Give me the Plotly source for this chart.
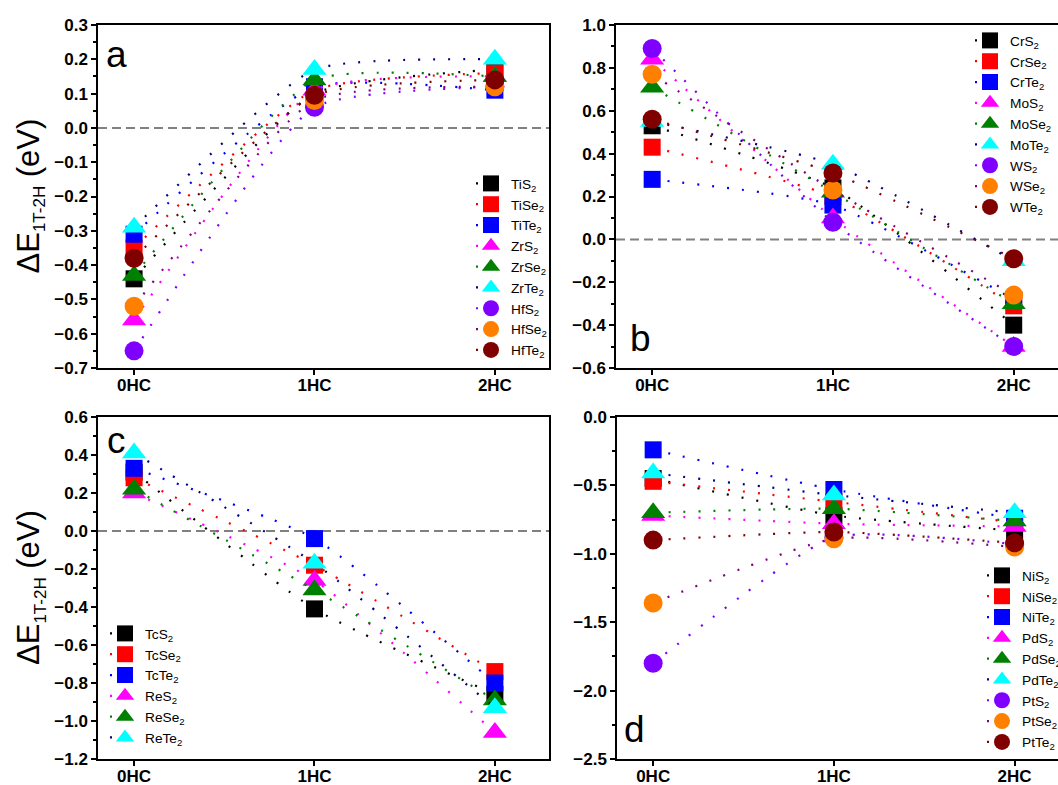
import plotly.graph_objects as go
from plotly.subplots import make_subplots

# hydrogen coverage positions along the x axis
coverage = [0, 1, 2]
coverage_labels = ["0HC", "1HC", "2HC"]

# panel a: group IV dichalcogenides, ΔE(1T-2H) in eV
names_a = ["TiS<sub>2</sub>", "TiSe<sub>2</sub>", "TiTe<sub>2</sub>",
           "ZrS<sub>2</sub>", "ZrSe<sub>2</sub>", "ZrTe<sub>2</sub>",
           "HfS<sub>2</sub>", "HfSe<sub>2</sub>", "HfTe<sub>2</sub>"]
TiS2 = [-0.44, 0.10, 0.17]
TiSe2 = [-0.35, 0.11, 0.16]
TiTe2 = [-0.31, 0.12, 0.11]
ZrS2 = [-0.56, 0.11, 0.15]
ZrSe2 = [-0.43, 0.14, 0.15]
ZrTe2 = [-0.29, 0.17, 0.20]
HfS2 = [-0.65, 0.06, 0.12]
HfSe2 = [-0.52, 0.08, 0.12]
HfTe2 = [-0.38, 0.095, 0.14]

# panel b: group VI
names_b = ["CrS<sub>2</sub>", "CrSe<sub>2</sub>", "CrTe<sub>2</sub>",
           "MoS<sub>2</sub>", "MoSe<sub>2</sub>", "MoTe<sub>2</sub>",
           "WS<sub>2</sub>", "WSe<sub>2</sub>", "WTe<sub>2</sub>"]
CrS2 = [0.53, 0.24, -0.40]
CrSe2 = [0.43, 0.20, -0.31]
CrTe2 = [0.28, 0.16, -0.28]
MoS2 = [0.84, 0.10, -0.50]
MoSe2 = [0.71, 0.22, -0.30]
MoTe2 = [0.55, 0.35, -0.10]
WS2 = [0.89, 0.08, -0.50]
WSe2 = [0.77, 0.23, -0.26]
WTe2 = [0.56, 0.31, -0.09]

# panel c: group VII
names_c = ["TcS<sub>2</sub>", "TcSe<sub>2</sub>", "TcTe<sub>2</sub>",
           "ReS<sub>2</sub>", "ReSe<sub>2</sub>", "ReTe<sub>2</sub>"]
TcS2 = [0.31, -0.41, -0.86]
TcSe2 = [0.28, -0.18, -0.74]
TcTe2 = [0.33, -0.04, -0.80]
ReS2 = [0.20, -0.26, -1.06]
ReSe2 = [0.22, -0.31, -0.89]
ReTe2 = [0.41, -0.17, -0.93]

# panel d: group X
names_d = ["NiS<sub>2</sub>", "NiSe<sub>2</sub>", "NiTe<sub>2</sub>",
           "PdS<sub>2</sub>", "PdSe<sub>2</sub>", "PdTe<sub>2</sub>",
           "PtS<sub>2</sub>", "PtSe<sub>2</sub>", "PtTe<sub>2</sub>"]
NiS2 = [-0.45, -0.72, -0.83]
NiSe2 = [-0.47, -0.62, -0.77]
NiTe2 = [-0.24, -0.53, -0.74]
PdS2 = [-0.72, -0.78, -0.80]
PdSe2 = [-0.70, -0.67, -0.76]
PdTe2 = [-0.41, -0.57, -0.70]
PtS2 = [-1.80, -0.88, -0.93]
PtSe2 = [-1.36, -0.89, -0.95]
PtTe2 = [-0.90, -0.84, -0.92]

series_a = [TiS2, TiSe2, TiTe2, ZrS2, ZrSe2, ZrTe2, HfS2, HfSe2, HfTe2]
series_b = [CrS2, CrSe2, CrTe2, MoS2, MoSe2, MoTe2, WS2, WSe2, WTe2]
series_c = [TcS2, TcSe2, TcTe2, ReS2, ReSe2, ReTe2]
series_d = [NiS2, NiSe2, NiTe2, PdS2, PdSe2, PdTe2, PtS2, PtSe2, PtTe2]

marker_colors = ["#000000", "#FF0000", "#0000FF", "#FF00FF", "#008000",
                 "#00FFFF", "#8000FF", "#FF8000", "#800000"]
line_colors = ["#000000", "#FF0000", "#0000FF", "#FF00FF", "#008000",
               "#000080", "#8000FF", "#800080", "#800000"]
symbols = ["square"] * 3 + ["triangle-up"] * 3 + ["circle"] * 3
sizes = {"square": 17, "triangle-up": 21, "circle": 19}

FONT = "Liberation Sans, Arial, sans-serif"
W, H = 1058, 785

fig = make_subplots(rows=2, cols=2)

panels = [
    (names_a, series_a, 1, 1, "legend"),
    (names_b, series_b, 1, 2, "legend2"),
    (names_c, series_c, 2, 1, "legend3"),
    (names_d, series_d, 2, 2, "legend4"),
]
for names, series, r, c, leg in panels:
    for i, (nm, vals) in enumerate(zip(names, series)):
        fig.add_trace(go.Scatter(
            x=coverage, y=vals, name=nm, mode="lines+markers", legend=leg,
            line=dict(color=line_colors[i], width=2.2, dash="2px,13px",
                      shape="spline", smoothing=0.5),
            marker=dict(symbol=symbols[i], size=sizes[symbols[i]],
                        color=marker_colors[i], line=dict(width=0)),
        ), row=r, col=c)

# plot-area rectangles in pixels: (left, top, right, bottom)
boxes = {
    1: (98, 25, 549, 368),
    2: (616, 25, W, 368),
    3: (98, 417, 549, 759),
    4: (617, 417, W, 759),
}
xranges = {1: [-0.2, 2.3], 2: [-0.2, 2.245], 3: [-0.2, 2.3], 4: [-0.2, 2.24]}
yranges = {1: [-0.7, 0.3], 2: [-0.6, 1.0], 3: [-1.2, 0.6], 4: [-2.5, 0.0]}
ydticks = {1: 0.1, 2: 0.2, 3: 0.2, 4: 0.5}

tickfont = dict(family=FONT, size=17, color="black", weight="bold")
for k in range(1, 5):
    l, t, rr, b = boxes[k]
    xa = "xaxis" if k == 1 else f"xaxis{k}"
    ya = "yaxis" if k == 1 else f"yaxis{k}"
    right_open = k in (2, 4)
    fig.layout[xa].update(
        domain=[l / W, rr / W], range=xranges[k],
        tickvals=coverage, ticktext=coverage_labels,
        showline=True, linecolor="black", linewidth=1.5, mirror=True,
        ticks="outside", ticklen=5, tickwidth=1.5, tickcolor="black",
        ticklabelstandoff=-4,
        showgrid=False, zeroline=False, tickfont=tickfont,
    )
    fig.layout[ya].update(
        domain=[1 - b / H, 1 - t / H], range=yranges[k],
        dtick=ydticks[k], tick0=0, tickformat=".1f",
        showline=True, linecolor="black", linewidth=1.5,
        mirror=not right_open,
        ticks="outside", ticklen=5, tickwidth=1.5, tickcolor="black",
        minor=dict(ticks="outside", ticklen=3, tickwidth=1.5,
                   tickcolor="black", dtick=ydticks[k] / 2),
        showgrid=False, zeroline=False, tickfont=tickfont,
    )

# dashed reference line at zero
for k in (1, 2, 3):
    xs = "x" if k == 1 else f"x{k}"
    ys = "y" if k == 1 else f"y{k}"
    fig.add_shape(type="line", xref=f"{xs} domain", yref=ys, x0=0, x1=1,
                  y0=0, y1=0, layer="below",
                  line=dict(color="#808080", width=2, dash="9px,5px"))

# y-axis titles on the left panels
ytitle = ("ΔE<sub><span style='font-size:17px'>1T-2H</span></sub> (eV)")
for t, b in ((25, 368), (417, 759)):
    fig.add_annotation(text=ytitle, xref="paper", yref="paper",
                       x=30 / W, y=1 - (t + b) / 2 / H, textangle=-90,
                       showarrow=False, xanchor="center", yanchor="middle",
                       font=dict(family=FONT, size=31, color="black"))

# panel letters
for letter, px, py in (("a", 116, 55), ("b", 640, 338),
                       ("c", 116, 440), ("d", 634, 729)):
    fig.add_annotation(text=letter, xref="paper", yref="paper",
                       x=px / W, y=1 - py / H, showarrow=False,
                       xanchor="center", yanchor="middle",
                       font=dict(family=FONT, size=37, color="black"))

legend_style = dict(xanchor="left", yanchor="top", bgcolor="rgba(0,0,0,0)",
                    borderwidth=0, itemsizing="trace",
                    font=dict(family=FONT, size=13.7, color="black"))
fig.update_layout(
    width=W, height=H,
    margin=dict(l=0, r=0, t=0, b=0, autoexpand=False),
    paper_bgcolor="white", plot_bgcolor="white",
    legend=dict(x=471 / W, y=1 - 168 / H, **legend_style),
    legend2=dict(x=970 / W, y=1 - 25 / H, **legend_style),
    legend3=dict(x=105 / W, y=1 - 618 / H, **legend_style),
    legend4=dict(x=982 / W, y=1 - 560 / H, **legend_style),
)

fig.write_html("out.html")
